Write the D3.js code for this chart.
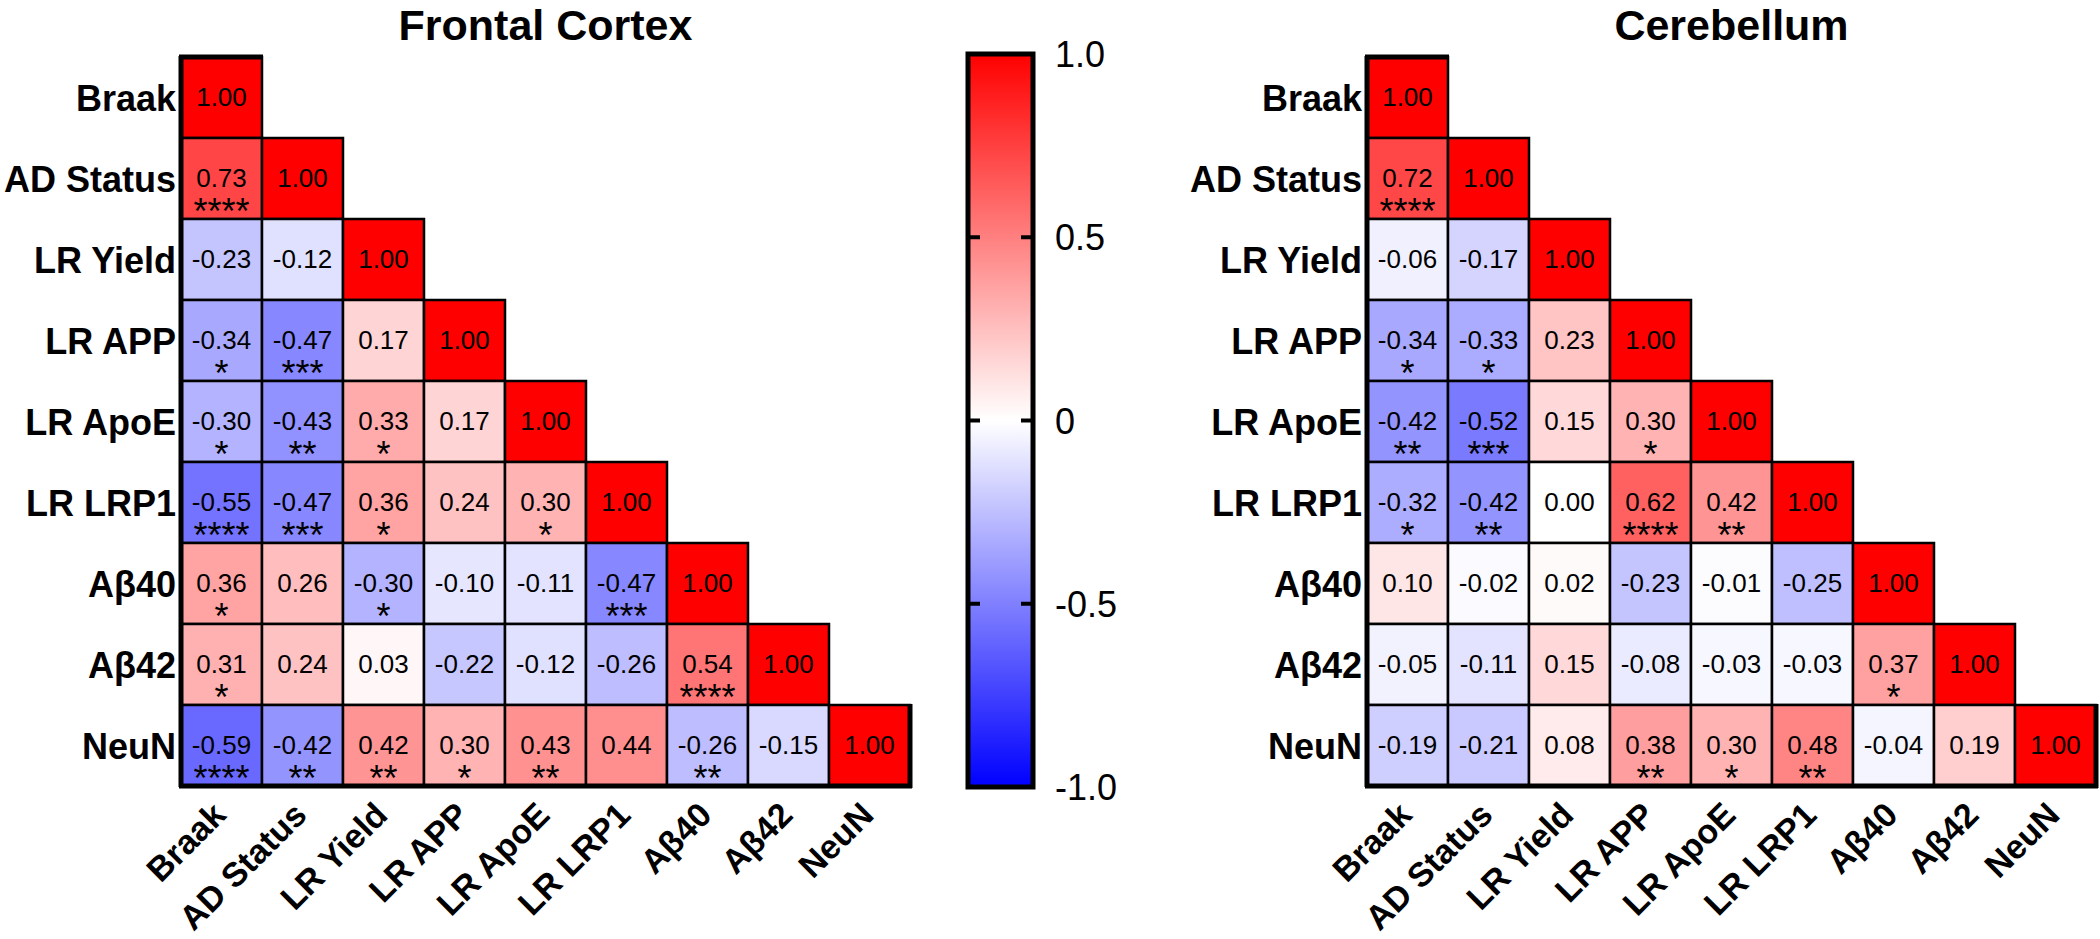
<!DOCTYPE html>
<html>
<head>
<meta charset="utf-8">
<script src="https://cdn.jsdelivr.net/npm/d3@7"></script>
<style>
  body { margin: 0; background: #fff; }
  svg text { font-family: "Liberation Sans", Arial, Helvetica, sans-serif; }
</style>
</head>
<body>
<div id="chart"></div>
<script>
// correlation heatmaps, frontal cortex + cerebellum
// ================================================

var vars = ['Braak', 'AD Status', 'LR Yield', 'LR APP', 'LR ApoE', 'LR LRP1', 'Aβ40', 'Aβ42', 'NeuN'];

// lower triangle, row by row
var frontalR = [
  [1.00],
  [0.73, 1.00],
  [-0.23, -0.12, 1.00],
  [-0.34, -0.47, 0.17, 1.00],
  [-0.30, -0.43, 0.33, 0.17, 1.00],
  [-0.55, -0.47, 0.36, 0.24, 0.30, 1.00],
  [0.36, 0.26, -0.30, -0.10, -0.11, -0.47, 1.00],
  [0.31, 0.24, 0.03, -0.22, -0.12, -0.26, 0.54, 1.00],
  [-0.59, -0.42, 0.42, 0.30, 0.43, 0.44, -0.26, -0.15, 1.00]
];
var frontalStars = [
  [''],
  ['****', ''],
  ['', '', ''],
  ['*', '***', '', ''],
  ['*', '**', '*', '', ''],
  ['****', '***', '*', '', '*', ''],
  ['*', '', '*', '', '', '***', ''],
  ['*', '', '', '', '', '', '****', ''],
  ['****', '**', '**', '*', '**', '', '**', '', '']
];

var cerebR = [
  [1.00],
  [0.72, 1.00],
  [-0.06, -0.17, 1.00],
  [-0.34, -0.33, 0.23, 1.00],
  [-0.42, -0.52, 0.15, 0.30, 1.00],
  [-0.32, -0.42, 0.00, 0.62, 0.42, 1.00],
  [0.10, -0.02, 0.02, -0.23, -0.01, -0.25, 1.00],
  [-0.05, -0.11, 0.15, -0.08, -0.03, -0.03, 0.37, 1.00],
  [-0.19, -0.21, 0.08, 0.38, 0.30, 0.48, -0.04, 0.19, 1.00]
];
var cerebStars = [
  [''],
  ['****', ''],
  ['', '', ''],
  ['*', '*', '', ''],
  ['**', '***', '', '*', ''],
  ['*', '**', '', '****', '**', ''],
  ['', '', '', '', '', '', ''],
  ['', '', '', '', '', '', '*', ''],
  ['', '', '', '**', '*', '**', '', '', '']
];

var barTicks = [1.0, 0.5, 0, -0.5, -1.0];
var barTickLabels = ['1.0', '0.5', '0', '-0.5', '-1.0'];

var width = 2100,
    height = 939;

var svg = d3.select("#chart").append("svg")
    .attr("width", width)
    .attr("height", height);

var colour = d3.scaleLinear()
    .domain([-1, 0, 1])
    .range(['#0000ff', '#ffffff', '#ff0000']);

var cell = 81;

function drawMap(title, x0, y0, r, stars) {
  var g = svg.append("g");

  var x = d3.scaleBand().domain(vars).range([x0, x0 + cell * vars.length]);
  var y = d3.scaleBand().domain(vars).range([y0, y0 + cell * vars.length]);

  var cells = [];
  r.forEach(function(row, i) {
    row.forEach(function(v, j) {
      cells.push({ row: vars[i], col: vars[j], v: v, s: stars[i][j] });
    });
  });

  g.selectAll("rect.cell")
    .data(cells)
    .enter().append("rect")
    .attr("class", "cell")
    .attr("x", d => x(d.col))
    .attr("y", d => y(d.row))
    .attr("width", x.bandwidth())
    .attr("height", y.bandwidth())
    .attr("fill", d => colour(d.v))
    .attr("stroke", "#000")
    .attr("stroke-width", 2.5);

  g.selectAll("text.val")
    .data(cells)
    .enter().append("text")
    .attr("class", "val")
    .attr("x", d => x(d.col) + x.bandwidth() / 2)
    .attr("y", d => y(d.row) + y.bandwidth() / 2 + 8)
    .attr("text-anchor", "middle")
    .attr("font-size", 26)
    .text(d => d.v.toFixed(2));

  g.selectAll("text.star")
    .data(cells.filter(d => d.s != ''))
    .enter().append("text")
    .attr("class", "star")
    .attr("x", d => x(d.col) + x.bandwidth() / 2)
    .attr("y", d => y(d.row) + y.bandwidth() / 2 + 45)
    .attr("text-anchor", "middle")
    .attr("font-size", 36)
    .text(d => d.s);

  // heavier outline: left, bottom, top of first cell, right of last cell
  var n = vars.length, x1 = x0 + cell * n, y1 = y0 + cell * n;
  var frame = [
    [[x0, y0 - 1], [x0, y1 + 1]],
    [[x0 - 2, y1], [x1 + 2, y1]],
    [[x0 - 2, y0], [x0 + cell + 1, y0]],
    [[x1, y1 - cell - 1], [x1, y1 + 2]]
  ];
  g.selectAll("path.frame")
    .data(frame)
    .enter().append("path")
    .attr("class", "frame")
    .attr("d", d3.line())
    .attr("stroke", "#000")
    .attr("stroke-width", 5)
    .attr("fill", "none");

  // row labels
  g.selectAll("text.rowlab")
    .data(vars)
    .enter().append("text")
    .attr("class", "rowlab")
    .attr("x", x0 - 5)
    .attr("y", d => y(d) + y.bandwidth() / 2 + 13)
    .attr("text-anchor", "end")
    .attr("font-size", 36)
    .attr("font-weight", "bold")
    .text(d => d);

  // column labels, rotated
  g.selectAll("text.collab")
    .data(vars)
    .enter().append("text")
    .attr("class", "collab")
    .attr("transform", d => "translate(" + (x(d) + x.bandwidth() / 2 + 6) + "," + (y1 + 31) + ") rotate(-45)")
    .attr("text-anchor", "end")
    .attr("font-size", 34)
    .attr("font-weight", "bold")
    .text(d => d);

  g.append("text")
    .attr("x", (x0 + x1) / 2)
    .attr("y", 40)
    .attr("text-anchor", "middle")
    .attr("font-size", 43)
    .attr("font-weight", "bold")
    .text(title);
}

drawMap("Frontal Cortex", 181, 57, frontalR, frontalStars);
drawMap("Cerebellum", 1367, 57, cerebR, cerebStars);

// colour bar
var barX = 968, barW = 65;
var barScale = d3.scaleLinear().domain([-1, 1]).range([787, 54]);

var grad = svg.append("defs").append("linearGradient")
    .attr("id", "barGrad")
    .attr("x1", 0).attr("y1", 1).attr("x2", 0).attr("y2", 0);
grad.selectAll("stop")
    .data([-1, 0, 1])
    .enter().append("stop")
    .attr("offset", d => (d + 1) / 2)
    .attr("stop-color", d => colour(d));

svg.append("rect")
    .attr("x", barX)
    .attr("y", barScale(1))
    .attr("width", barW)
    .attr("height", barScale(-1) - barScale(1))
    .attr("fill", "url(#barGrad)")
    .attr("stroke", "#000")
    .attr("stroke-width", 5);

var inner = barTicks.filter(d => Math.abs(d) < 1);
svg.selectAll("path.btick")
    .data(inner.map(d => [barX, d]).concat(inner.map(d => [barX + barW, d])))
    .enter().append("path")
    .attr("class", "btick")
    .attr("d", d => d[0] == barX
        ? "M" + barX + "," + barScale(d[1]) + "h12"
        : "M" + (barX + barW) + "," + barScale(d[1]) + "h-12")
    .attr("stroke", "#000")
    .attr("stroke-width", 4);

svg.selectAll("text.blab")
    .data(barTicks)
    .enter().append("text")
    .attr("class", "blab")
    .attr("x", barX + barW + 22)
    .attr("y", d => barScale(d) + 13)
    .attr("font-size", 36)
    .text((d, i) => barTickLabels[i]);
</script>
</body>
</html>
